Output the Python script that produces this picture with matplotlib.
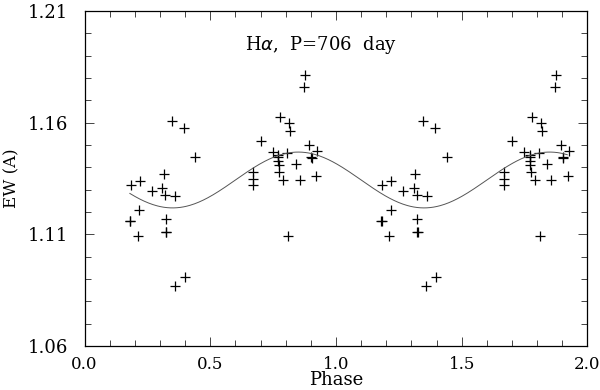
import numpy as np
import matplotlib.pyplot as plt
from matplotlib.ticker import MultipleLocator

# H-alpha equivalent width vs phase (one cycle, drawn twice)
phase = [0.346, 0.394, 0.440, 0.316, 0.184, 0.219, 0.268, 0.309, 0.321, 0.361,
         0.217, 0.179, 0.181, 0.324, 0.324, 0.325, 0.211, 0.358, 0.399,
         0.669, 0.669, 0.669, 0.701, 0.748, 0.770, 0.770, 0.770, 0.772, 0.774,
         0.779, 0.815, 0.819, 0.807, 0.841, 0.791, 0.857, 0.811,
         0.876, 0.873, 0.893, 0.925, 0.901, 0.903, 0.921]
ew = [1.1605, 1.1574, 1.1444, 1.1370, 1.1322, 1.1337, 1.1295, 1.1306, 1.1276, 1.1272,
      1.1207, 1.1161, 1.1158, 1.1170, 1.1111, 1.1108, 1.1093, 1.0867, 1.0908,
      1.1380, 1.1348, 1.1319, 1.1518, 1.1469, 1.1456, 1.1446, 1.1430, 1.1410, 1.1380,
      1.1624, 1.1600, 1.1562, 1.1464, 1.1413, 1.1343, 1.1345, 1.1091,
      1.1814, 1.1759, 1.1498, 1.1474, 1.1446, 1.1443, 1.1359]

y_ticks = [1.06, 1.11, 1.16, 1.21]

# fitted sine
fit_mean = 1.1343
fit_amp = 0.0125
fit_max_phase = 0.85
fit_start, fit_end = 0.18, 1.92

plt.rcParams['font.family'] = ['DejaVu Serif']
fig = plt.figure(figsize=(6, 3.9), dpi=100)
ax = fig.add_axes([0.141, 0.113, 0.838, 0.859])

ph = np.array(phase)
ax.plot(np.concatenate([ph, ph + 1]), ew * 2, '+', color='black',
        markersize=7, markeredgewidth=0.9)

xs = np.linspace(fit_start, fit_end, 400)
ax.plot(xs, fit_mean + fit_amp * np.cos(2 * np.pi * (xs - fit_max_phase)),
        color='#555555', linewidth=0.7)

ax.set_xlim(0, 2)
ax.set_ylim(1.06, 1.21)
ax.xaxis.set_major_locator(MultipleLocator(0.5))
ax.xaxis.set_minor_locator(MultipleLocator(0.1))
ax.set_yticks(y_ticks)
ax.set_yticklabels([f"{v:.2f}" for v in y_ticks])
ax.yaxis.set_minor_locator(MultipleLocator(0.01))
ax.tick_params(which='both', direction='in', top=True, right=True,
               width=0.7, color='#444444')
ax.tick_params(which='major', length=6.5)
ax.tick_params(which='minor', length=4)
ax.tick_params(axis='x', pad=7, labelsize=12)
ax.tick_params(axis='y', pad=12, labelsize=13)
for s in ax.spines.values():
    s.set_linewidth(0.9)

ax.set_xlabel("Phase", fontsize=13, labelpad=-1)
ax.set_ylabel("EW (A)", fontsize=12)
ax.yaxis.set_label_coords(-0.127, 0.5)
ax.text(0.94, 1.1948, r"H$\alpha$,  P=706  day", fontsize=13, ha='center', va='center')

plt.savefig("out.png")
